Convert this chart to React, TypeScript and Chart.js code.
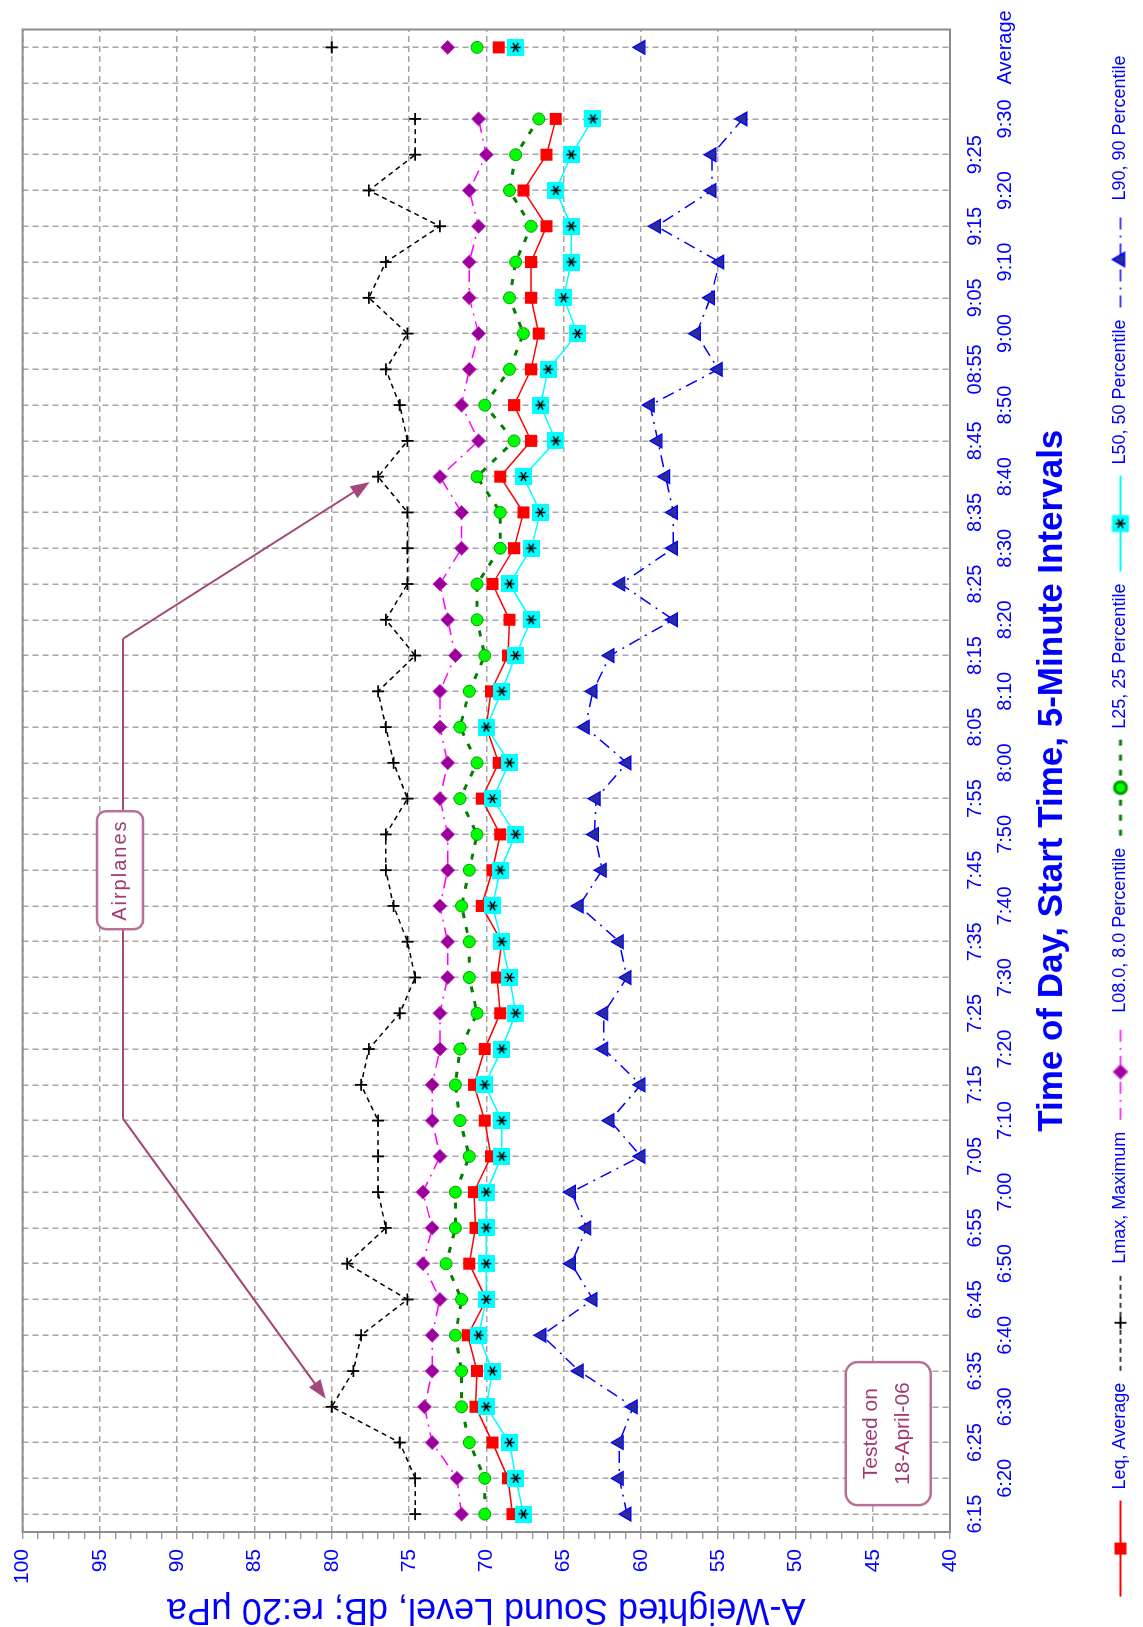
import React, { useEffect, useRef } from 'react';
import { Chart, registerables } from 'chart.js';

Chart.register(...registerables);

// ---------- data ----------
const TIMES = ['6:15', '6:20', '6:25', '6:30', '6:35', '6:40', '6:45', '6:50', '6:55',
  '7:00', '7:05', '7:10', '7:15', '7:20', '7:25', '7:30', '7:35', '7:40', '7:45', '7:50', '7:55',
  '8:00', '8:05', '8:10', '8:15', '8:20', '8:25', '8:30', '8:35', '8:40', '8:45', '8:50', '08:55',
  '9:00', '9:05', '9:10', '9:15', '9:20', '9:25', '9:30', '', 'Average'];

const LEQ = [68.3, 68.6, 69.6, 70.7, 70.6, 71.2, 70.0, 71.1, 70.7, 70.8,
  69.7, 70.1, 70.8, 70.1, 69.1, 69.3, 69.0, 70.3, 69.6, 69.1,
  70.3, 69.2, 70.0, 69.7, 68.6, 68.5, 69.6, 68.2, 67.6, 69.1,
  67.1, 68.2, 67.1, 66.6, 67.1, 67.1, 66.1, 67.6, 66.1, 65.5, null, 69.2];

const LMAX = [74.6, 74.6, 75.6, 80.0, 78.6, 78.1, 75.1, 79.0, 76.5, 77.0,
  77.0, 77.0, 78.1, 77.6, 75.6, 74.6, 75.1, 76.0, 76.5, 76.5,
  75.1, 76.0, 76.5, 77.0, 74.6, 76.5, 75.1, 75.1, 75.1, 77.0,
  75.1, 75.6, 76.5, 75.1, 77.6, 76.5, 73.0, 77.6, 74.6, 74.6, null, 80.0];

const L08 = [71.6, 71.9, 73.5, 74.0, 73.5, 73.5, 73.0, 74.1, 73.5, 74.1,
  73.0, 73.5, 73.5, 73.0, 73.0, 72.5, 72.5, 73.0, 72.5, 72.5,
  73.0, 72.5, 73.0, 73.0, 72.0, 72.5, 73.0, 71.6, 71.6, 73.0,
  70.5, 71.6, 71.1, 70.5, 71.1, 71.1, 70.5, 71.1, 70.0, 70.5, null, 72.5];

const L25 = [70.1, 70.1, 71.1, 71.6, 71.6, 72.0, 71.6, 72.6, 72.0, 72.0,
  71.1, 71.7, 72.0, 71.7, 70.6, 71.1, 71.1, 71.6, 71.1, 70.6,
  71.7, 70.6, 71.7, 71.1, 70.1, 70.6, 70.6, 69.1, 69.1, 70.6,
  68.2, 70.1, 68.5, 67.6, 68.5, 68.1, 67.1, 68.5, 68.1, 66.6, null, 70.6];

const L50 = [67.6, 68.1, 68.5, 70.0, 69.6, 70.5, 70.0, 70.0, 70.0, 70.0,
  69.0, 69.0, 70.1, 69.0, 68.1, 68.5, 69.0, 69.6, 69.1, 68.1,
  69.6, 68.5, 70.0, 69.0, 68.1, 67.1, 68.5, 67.1, 66.5, 67.6,
  65.5, 66.5, 66.0, 64.1, 65.0, 64.5, 64.5, 65.5, 64.5, 63.1, null, 68.1];

const L90 = [60.9, 61.4, 61.4, 60.5, 64.0, 66.4, 63.1, 64.5, 63.5, 64.5,
  60.0, 62.0, 60.0, 62.4, 62.4, 60.9, 61.4, 64.0, 62.5, 63.0,
  62.9, 60.9, 63.6, 63.1, 62.0, 57.9, 61.3, 57.9, 57.9, 58.4,
  58.9, 59.4, 55.0, 56.4, 55.5, 54.9, 59.0, 55.4, 55.4, 53.4, null, 60.0];

const SERIES_LABELS = ['Leq, Average', 'Lmax, Maximum', 'L08.0, 8.0 Percentile',
  'L25, 25 Percentile', 'L50, 50 Percentile', 'L90, 90 Percentile'];

const Y_MIN = 40;
const Y_MAX = 100;

// ---------- styling ----------
const FONT = "'Liberation Sans', Arial, sans-serif";
const BLUE = '#0000ff';
const GRID = '#a6a6a6';
const MAUVE = '#a4487c';
const W = 1627;
const H = 1143;

function makeCanvas(w: number, h: number, draw: (c: CanvasRenderingContext2D) => void) {
  const c = document.createElement('canvas');
  c.width = w;
  c.height = h;
  const ctx = c.getContext('2d') as CanvasRenderingContext2D;
  draw(ctx);
  return c;
}

function drawStarSquare(ctx: CanvasRenderingContext2D, cx: number, cy: number, s: number) {
  ctx.fillStyle = '#00ffff';
  ctx.fillRect(cx - s / 2, cy - s / 2, s, s);
  ctx.strokeStyle = '#000000';
  ctx.lineWidth = 1.5;
  const r = s * 0.3;
  ctx.beginPath();
  for (const a of [90, 30, 150]) {
    const rad = (a * Math.PI) / 180;
    ctx.moveTo(cx - Math.cos(rad) * r, cy - Math.sin(rad) * r);
    ctx.lineTo(cx + Math.cos(rad) * r, cy + Math.sin(rad) * r);
  }
  ctx.stroke();
}

function drawMarker(ctx: CanvasRenderingContext2D, kind: string, cx: number, cy: number) {
  ctx.save();
  ctx.setLineDash([]);
  if (kind === 'rect') {
    ctx.fillStyle = '#ff0000';
    ctx.fillRect(cx - 6, cy - 6, 12, 12);
  } else if (kind === 'cross') {
    ctx.strokeStyle = '#000';
    ctx.lineWidth = 1.8;
    ctx.beginPath();
    ctx.moveTo(cx - 6, cy); ctx.lineTo(cx + 6, cy);
    ctx.moveTo(cx, cy - 6); ctx.lineTo(cx, cy + 6);
    ctx.stroke();
  } else if (kind === 'diamond') {
    ctx.fillStyle = '#990099';
    ctx.strokeStyle = '#cc33cc';
    ctx.beginPath();
    ctx.moveTo(cx - 7, cy); ctx.lineTo(cx, cy - 7); ctx.lineTo(cx + 7, cy); ctx.lineTo(cx, cy + 7);
    ctx.closePath(); ctx.fill(); ctx.stroke();
  } else if (kind === 'circle') {
    ctx.fillStyle = '#00ff00';
    ctx.strokeStyle = '#00a000';
    ctx.beginPath(); ctx.arc(cx, cy, 6, 0, Math.PI * 2); ctx.fill(); ctx.stroke();
  } else if (kind === 'star') {
    drawStarSquare(ctx, cx, cy, 17);
  } else if (kind === 'triangle') {
    ctx.fillStyle = '#2b2b9c';
    ctx.strokeStyle = '#0000ff';
    ctx.beginPath();
    ctx.moveTo(cx, cy - 8); ctx.lineTo(cx + 7, cy + 4); ctx.lineTo(cx - 7, cy + 4);
    ctx.closePath(); ctx.fill(); ctx.stroke();
  }
  ctx.restore();
}

const LEGEND_W = 100;
function legendSample(color: string, width: number, dash: number[], kind: string) {
  return makeCanvas(LEGEND_W, 20, (ctx) => {
    ctx.strokeStyle = color;
    ctx.lineWidth = width;
    ctx.setLineDash(dash);
    ctx.beginPath();
    ctx.moveTo(2, 10);
    ctx.lineTo(LEGEND_W - 2, 10);
    ctx.stroke();
    drawMarker(ctx, kind, LEGEND_W / 2, 10);
  });
}

function roundRect(ctx: CanvasRenderingContext2D, x: number, y: number, w: number, h: number, r: number) {
  ctx.beginPath();
  ctx.moveTo(x + r, y);
  ctx.lineTo(x + w - r, y);
  ctx.arcTo(x + w, y, x + w, y + r, r);
  ctx.lineTo(x + w, y + h - r);
  ctx.arcTo(x + w, y + h, x + w - r, y + h, r);
  ctx.lineTo(x + r, y + h);
  ctx.arcTo(x, y + h, x, y + h - r, r);
  ctx.lineTo(x, y + r);
  ctx.arcTo(x, y, x + r, y, r);
  ctx.closePath();
}

function arrow(ctx: CanvasRenderingContext2D, ex: number, ey: number, px: number, py: number) {
  const dx = px - ex;
  const dy = py - ey;
  const len = Math.hypot(dx, dy);
  const ux = dx / len;
  const uy = dy / len;
  const tipX = px - ux * 10;
  const tipY = py - uy * 10;
  const head = 19;
  const half = 7;
  const bx = tipX - ux * head;
  const by = tipY - uy * head;
  ctx.beginPath();
  ctx.moveTo(ex, ey);
  ctx.lineTo(bx + ux * 2, by + uy * 2);
  ctx.stroke();
  ctx.beginPath();
  ctx.moveTo(tipX, tipY);
  ctx.lineTo(bx - uy * half, by + ux * half);
  ctx.lineTo(bx + uy * half, by - ux * half);
  ctx.closePath();
  ctx.fill();
}

const notesPlugin = {
  id: 'notes',
  beforeDatasetsDraw(chart: any) {
    const { ctx, chartArea: a } = chart;
    ctx.save();
    ctx.strokeStyle = '#8c8c8c';
    ctx.lineWidth = 2;
    ctx.strokeRect(a.left, a.top, a.right - a.left, a.bottom - a.top);
    ctx.restore();
  },
  afterDatasetsDraw(chart: any) {
    const { ctx } = chart;
    const xs = chart.scales.x;
    const ys = chart.scales.y;
    ctx.save();
    // Airplanes callout
    const bx = xs.getPixelForValue(18);
    const by = ys.getPixelForValue(93.7);
    const bw = 118;
    const bh = 46;
    const lineY = ys.getPixelForValue(93.5);
    const e1x = xs.getPixelForValue(24.47);
    const e2x = xs.getPixelForValue(11.05);
    ctx.strokeStyle = MAUVE;
    ctx.fillStyle = MAUVE;
    ctx.lineWidth = 2;
    ctx.beginPath();
    ctx.moveTo(bx + bw / 2, lineY);
    ctx.lineTo(e1x, lineY);
    ctx.moveTo(bx - bw / 2, lineY);
    ctx.lineTo(e2x, lineY);
    ctx.stroke();
    arrow(ctx, e1x, lineY, xs.getPixelForValue(29), ys.getPixelForValue(LMAX[29] as number));
    arrow(ctx, e2x, lineY, xs.getPixelForValue(3), ys.getPixelForValue(LMAX[3] as number));

    ctx.fillStyle = '#ffffff';
    ctx.strokeStyle = '#bb6f98';
    ctx.lineWidth = 2.5;
    roundRect(ctx, bx - bw / 2, by - bh / 2, bw, bh, 9);
    ctx.fill();
    ctx.stroke();
    ctx.fillStyle = '#a03a70';
    ctx.font = `20px ${FONT}`;
    ctx.textAlign = 'center';
    ctx.textBaseline = 'middle';
    try { (ctx as any).letterSpacing = '2px'; } catch (e) { /* ignore */ }
    ctx.fillText('Airplanes', bx, by + 1);
    try { (ctx as any).letterSpacing = '0px'; } catch (e) { /* ignore */ }

    // Tested on box
    const tx = xs.getPixelForValue(2.25);
    const ty = ys.getPixelForValue(44.0);
    const tw = 143;
    const th = 85;
    ctx.fillStyle = '#ffffff';
    ctx.strokeStyle = '#bb6f98';
    roundRect(ctx, tx - tw / 2, ty - th / 2, tw, th, 12);
    ctx.fill();
    ctx.stroke();
    ctx.fillStyle = '#a03a70';
    ctx.font = `21px ${FONT}`;
    ctx.fillText('Tested on', tx, ty - 17);
    ctx.fillText('18-April-06', tx, ty + 15);
    ctx.restore();
  },
};

export default function App() {
  const ref = useRef<HTMLCanvasElement | null>(null);

  useEffect(() => {
    if (!ref.current) return;
    const starImg = makeCanvas(17, 17, (c) => drawStarSquare(c, 8.5, 8.5, 17));
    const legendImgs = [
      legendSample('#ff0000', 2, [], 'rect'),
      legendSample('#000000', 1.5, [5, 4], 'cross'),
      legendSample('#ff00ff', 1.5, [12, 6, 2, 6], 'diamond'),
      legendSample('#008000', 3, [6, 9], 'circle'),
      legendSample('#00ffff', 2, [], 'star'),
      legendSample('#0000ff', 1.5, [12, 6, 2, 6], 'triangle'),
    ];

    const chart = new Chart(ref.current, {
      type: 'line',
      data: {
        labels: TIMES,
        datasets: [
          {
            label: SERIES_LABELS[0], data: LEQ, borderColor: '#ff0000', borderWidth: 1.5,
            pointStyle: 'rect', pointRadius: 8.5, pointBackgroundColor: '#ff0000',
            pointBorderColor: '#ff0000', pointBorderWidth: 0, order: 6,
          },
          {
            label: SERIES_LABELS[1], data: LMAX, borderColor: '#000000', borderWidth: 1.5,
            borderDash: [5, 4], pointStyle: 'cross', pointRadius: 6,
            pointBorderColor: '#000000', pointBorderWidth: 1.8, order: 5,
          },
          {
            label: SERIES_LABELS[2], data: L08, borderColor: '#ff00ff', borderWidth: 1.5,
            borderDash: [12, 6, 2, 6], pointStyle: 'rectRot', pointRadius: 7,
            pointBackgroundColor: '#990099', pointBorderColor: '#cc33cc', pointBorderWidth: 1, order: 4,
          },
          {
            label: SERIES_LABELS[3], data: L25, borderColor: '#008000', borderWidth: 3,
            borderDash: [6, 9], pointStyle: 'circle', pointRadius: 6,
            pointBackgroundColor: '#00ff00', pointBorderColor: '#00a000', pointBorderWidth: 1, order: 3,
          },
          {
            label: SERIES_LABELS[4], data: L50, borderColor: '#00ffff', borderWidth: 1.5,
            pointStyle: starImg, order: 2,
          },
          {
            label: SERIES_LABELS[5], data: L90, borderColor: '#0000ff', borderWidth: 1.5,
            borderDash: [12, 6, 2, 6], pointStyle: 'triangle', pointRadius: 8,
            pointBackgroundColor: '#2b2b9c', pointBorderColor: '#0000ff', pointBorderWidth: 1.2, order: 1,
          },
        ],
      },
      options: {
        responsive: false,
        animation: false,
        devicePixelRatio: 1,
        events: [],
        spanGaps: false,
        layout: { padding: { left: 0, right: 27, top: 21, bottom: 3.5 } },
        plugins: {
          tooltip: { enabled: false },
          legend: {
            position: 'bottom',
            labels: {
              usePointStyle: true,
              pointStyleWidth: LEGEND_W,
              color: BLUE,
              padding: 10,
              font: { family: FONT, size: 18 },
              generateLabels: (ch: any) => ch.data.datasets.map((ds: any, i: number) => ({
                text: ds.label,
                fillStyle: 'rgba(0,0,0,0)',
                strokeStyle: 'rgba(0,0,0,0)',
                lineWidth: 0,
                pointStyle: legendImgs[i],
                hidden: false,
                datasetIndex: i,
                fontColor: BLUE,
              })),
            },
          },
        },
        scales: {
          x: {
            type: 'category',
            offset: true,
            grid: { color: GRID, lineWidth: 1.5, drawTicks: false, offset: false },
            border: { display: false, dash: [6, 4] },
            ticks: {
              autoSkip: false,
              maxRotation: 0,
              minRotation: 0,
              padding: 10,
              color: BLUE,
              font: { family: FONT, size: 20, lineHeight: 1.5 },
              callback: (_v: any, index: number) => (index % 2 === 0 ? [TIMES[index]] : ['', TIMES[index]]),
            },
            title: {
              display: true,
              text: 'Time of Day, Start Time, 5-Minute Intervals',
              color: BLUE,
              font: { family: FONT, size: 35, weight: 'bold', lineHeight: 1.2 },
              padding: { top: 0, bottom: 28.5 },
            },
            afterFit: (s: any) => { s.height = 151.5; },
          },
          y: {
            type: 'linear',
            min: Y_MIN,
            max: Y_MAX,
            ticks: {
              stepSize: 1,
              autoSkip: false,
              padding: 10,
              color: BLUE,
              font: { family: FONT, size: 21 },
              callback: (v: any) => (Number(v) % 5 === 0 ? String(v) : ''),
            },
            grid: {
              color: (c: any) => (c.tick && c.tick.value % 5 === 0 ? GRID : 'rgba(0,0,0,0)'),
              lineWidth: 1.5,
              tickColor: '#8c8c8c',
              tickLength: 7,
              tickWidth: 1.2,
              tickBorderDash: [],
            },
            border: { display: false, dash: [6, 4] },
            title: {
              display: true,
              text: 'A-Weighted Sound Level, dB; re:20 μPa',
              color: BLUE,
              font: { family: FONT, size: 36, lineHeight: 1 },
              padding: { top: 0, bottom: 0 },
            },
            afterFit: (s: any) => { s.width = 95; },
          },
        },
      } as any,
      plugins: [notesPlugin],
    });
    return () => chart.destroy();
  }, []);

  return (
    <div style={{ position: 'absolute', left: 0, top: 0, width: H, height: W, overflow: 'hidden', background: '#ffffff' }}>
      <div
        style={{
          position: 'absolute', left: 0, top: 0, width: W, height: H,
          transformOrigin: '0 0', transform: `translateY(${W}px) rotate(-90deg)`,
        }}
      >
        <canvas ref={ref} width={W} height={H} style={{ display: 'block', width: W, height: H }} />
      </div>
    </div>
  );
}
